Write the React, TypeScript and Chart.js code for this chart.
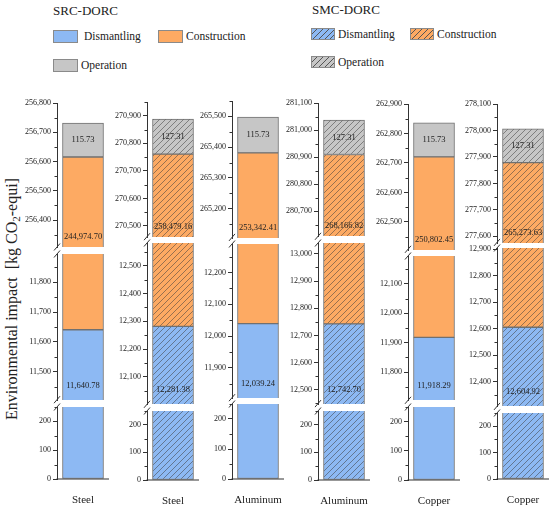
import React, { useRef, useEffect } from "react";
import { Chart, registerables } from "chart.js";

Chart.register(...registerables);

const FONT = "'Liberation Serif', 'Times New Roman', serif";

// chart data
const categories = ["Steel", "Steel", "Aluminum", "Aluminum", "Copper", "Copper"];
const seriesNames = ["Dismantling", "Construction", "Operation"];
const dismantling = [11640.78, 12281.38, 12039.24, 12742.7, 11918.29, 12604.92];
const construction = [244974.7, 258479.16, 253342.41, 268166.82, 250802.45, 265273.63];
const operation = [115.73, 127.31, 115.73, 127.31, 115.73, 127.31];
const hatched = [false, true, false, true, false, true];

// axis ranges of the broken axis (top / middle / bottom piece of each column)
const topMin = [256308, 270460, 265105, 280608, 262405, 277575];
const topMax = [256800, 270950, 265550, 281100, 262900, 278100];
const midMin = [11405, 12002, 11805, 12448, 11705, 12307];
const midMax = [11895, 12582, 12290, 13040, 12195, 12905];
const botMin = [0, 0, 0, 0, 0, 0];
const botMax = [250, 250, 250, 250, 250, 250];
const majorStep = 100;
const minorStep = 50;

const colors = ["#8DB9F3", "#FDAA63", "#C6C6C6"];

// layout (pixels)
const AXIS_X = [57, 146.7, 232.3, 317.7, 407.7, 496.7];
const SEG_Y = [
  [102.7, 247, 254, 400, 407.3],
  [102, 237, 243.3, 404, 410.7],
  [100.7, 237.7, 244.3, 398, 404.3],
  [102.7, 236, 242.7, 403.3, 410.7],
  [103.5, 249, 255.7, 400, 406.7],
  [104, 242.7, 248.3, 406.7, 413.3],
];
const AXIS_BOTTOM = 479.3;
const Y_W = 48;
const AREA_W = 52;
const RIGHT_PAD = 12;
const BAR_W = 41;
const PAD = 12;
const X_H = 30;

const fmt2 = (v: number) =>
  v.toLocaleString("en-US", { minimumFractionDigits: 2, maximumFractionDigits: 2 });

function hatch(color: string) {
  const s = 6;
  const c = document.createElement("canvas");
  c.width = s;
  c.height = s;
  const g = c.getContext("2d")!;
  g.fillStyle = color;
  g.fillRect(0, 0, s, s);
  g.strokeStyle = "rgba(60,60,60,0.75)";
  g.lineWidth = 0.7;
  g.beginPath();
  g.moveTo(0, s);
  g.lineTo(s, 0);
  g.moveTo(-1, 1);
  g.lineTo(1, -1);
  g.moveTo(s - 1, s + 1);
  g.lineTo(s + 1, s - 1);
  g.stroke();
  return g.createPattern(c, "repeat");
}

function segGeom(col: number, seg: number) {
  const y = SEG_Y[col];
  if (seg === 0) return { top: y[0], bottom: y[1], min: topMin[col], max: topMax[col], gap: 0 };
  if (seg === 1) return { top: y[2], bottom: y[3], min: midMin[col], max: midMax[col], gap: y[2] - y[1] };
  return { top: y[4], bottom: AXIS_BOTTOM, min: botMin[col], max: botMax[col], gap: y[4] - y[3] };
}

const Segment: React.FC<{ col: number; seg: number }> = ({ col, seg }) => {
  const chartRef = useRef<HTMLCanvasElement | null>(null);
  const g = segGeom(col, seg);
  const isBottom = seg === 2;
  const width = Y_W + AREA_W + RIGHT_PAD;
  const height = Math.round(g.bottom - g.top) + PAD + (isBottom ? X_H : PAD);

  useEffect(() => {
    if (!chartRef.current) return;
    const ctx = chartRef.current.getContext("2d");
    if (!ctx) return;
    const d = dismantling[col];
    const c = construction[col];
    const o = operation[col];
    const starts = [0, d, d + c];
    const ends = [d, d + c, d + c + o];

    const extras = {
      id: "extras",
      afterDatasetsDraw(chart: any) {
        const cx = chart.ctx;
        const area = chart.chartArea;
        const ys = chart.scales.y;
        const xm = chart.scales.x.getPixelForValue(0);
        cx.save();
        cx.fillStyle = "#222";
        cx.font = `8.5px ${FONT}`;
        cx.textAlign = "center";
        cx.textBaseline = "middle";
        if (seg === 1) cx.fillText(fmt2(d), xm, area.bottom - 14);
        if (seg === 0) {
          cx.fillText(fmt2(c), xm, area.bottom - 10);
          cx.fillText(fmt2(o), xm, ys.getPixelForValue(d + c + o / 2));
        }
        if (isBottom) {
          cx.font = `11px ${FONT}`;
          cx.fillText(categories[col], xm, area.bottom + 21);
        }
        cx.restore();
      },
      afterDraw(chart: any) {
        const cx = chart.ctx;
        const area = chart.chartArea;
        const ys = chart.scales.y;
        const ax = area.left;
        cx.save();
        cx.strokeStyle = "#333";
        cx.lineWidth = 1;
        cx.beginPath();
        // minor ticks
        for (let v = Math.ceil(ys.min / minorStep) * minorStep; v <= ys.max; v += minorStep) {
          if (v % majorStep === 0) continue;
          const py = Math.round(ys.getPixelForValue(v)) + 0.5;
          cx.moveTo(ax - 2.5, py);
          cx.lineTo(ax, py);
        }
        // axis break marks
        if (seg > 0) {
          for (const yy of [area.top - g.gap, area.top]) {
            cx.moveTo(ax - 3, yy + 3.5);
            cx.lineTo(ax + 3, yy - 3.5);
          }
        }
        cx.stroke();
        if (isBottom) {
          cx.lineWidth = 1.2;
          cx.beginPath();
          cx.moveTo(ax - 0.5, area.bottom);
          cx.lineTo(area.right, area.bottom);
          cx.stroke();
        }
        cx.restore();
      },
    };

    const chart = new Chart(ctx, {
      type: "bar",
      data: {
        labels: [categories[col]],
        datasets: seriesNames.map((name, k) => ({
          label: name,
          data: [[starts[k], ends[k]]],
          backgroundColor: hatched[col] ? hatch(colors[k]) : colors[k],
          borderColor: "#707070",
          borderWidth: 1,
          borderSkipped: false,
          barThickness: BAR_W,
          grouped: false,
          clip: 0,
        })) as any,
      },
      options: {
        responsive: false,
        animation: false,
        events: [],
        layout: { padding: { top: PAD, bottom: isBottom ? X_H : PAD, left: 0, right: RIGHT_PAD } },
        plugins: { legend: { display: false }, tooltip: { enabled: false } },
        scales: {
          x: {
            type: "category",
            display: false,
            offset: true,
          },
          y: {
            type: "linear",
            min: g.min,
            max: g.max,
            grid: { drawOnChartArea: false, tickLength: 4, color: "#333", tickColor: "#333" },
            border: { display: true, color: "#333", width: 1 },
            ticks: {
              autoSkip: false,
              padding: 2,
              color: "#222",
              font: { family: FONT, size: 8 },
              callback: (v: any) => Number(v).toLocaleString("en-US"),
            },
            afterBuildTicks: (s: any) => {
              const t = [];
              for (let v = Math.ceil(s.min / majorStep) * majorStep; v <= s.max; v += majorStep) t.push({ value: v });
              s.ticks = t;
            },
            afterFit: (s: any) => {
              s.width = Y_W;
            },
          },
        },
      } as any,
      plugins: [extras],
    });
    return () => chart.destroy();
  }, [col, seg]);

  return (
    <canvas
      ref={chartRef}
      width={width}
      height={height}
      style={{ position: "absolute", left: AXIS_X[col] - Y_W, top: g.top - PAD, width, height }}
    />
  );
};

const Swatch: React.FC<{ x: number; y: number; w: number; h: number; color: string; hatch?: boolean }> = ({
  x, y, w, h, color, hatch: h2,
}) => (
  <div
    style={{
      position: "absolute",
      left: x,
      top: y,
      width: w,
      height: h,
      boxSizing: "border-box",
      border: "1px solid #8a8a8a",
      background: h2
        ? `repeating-linear-gradient(135deg, ${color} 0px, ${color} 3.3px, #555 3.3px, #555 4.1px)`
        : color,
    }}
  />
);

const Label: React.FC<{ x: number; y: number; size: number; children: React.ReactNode }> = ({ x, y, size, children }) => (
  <div
    style={{
      position: "absolute",
      left: x,
      top: y - size * 0.6,
      fontSize: size,
      lineHeight: `${size * 1.2}px`,
      color: "#222",
      whiteSpace: "nowrap",
    }}
  >
    {children}
  </div>
);

export default function App() {
  return (
    <div
      style={{
        position: "absolute",
        left: 0,
        top: 0,
        width: 550,
        height: 510,
        background: "#fff",
        fontFamily: FONT,
        overflow: "hidden",
      }}
    >
      <Label x={53} y={11} size={13}>SRC-DORC</Label>
      <Swatch x={53} y={30} w={25} h={13} color={colors[0]} />
      <Label x={84} y={36.5} size={11.5}>{seriesNames[0]}</Label>
      <Swatch x={158} y={30} w={25} h={13} color={colors[1]} />
      <Label x={186} y={36.5} size={11.5}>{seriesNames[1]}</Label>
      <Swatch x={53} y={59} w={25} h={13} color={colors[2]} />
      <Label x={81} y={65.5} size={11.5}>{seriesNames[2]}</Label>

      <Label x={312} y={10} size={13}>SMC-DORC</Label>
      <Swatch x={311} y={28.3} w={24} h={12} color={colors[0]} hatch />
      <Label x={338} y={34.5} size={11.5}>{seriesNames[0]}</Label>
      <Swatch x={410} y={28.3} w={24} h={12} color={colors[1]} hatch />
      <Label x={437} y={34.5} size={11.5}>{seriesNames[1]}</Label>
      <Swatch x={311} y={56} w={24} h={12} color={colors[2]} hatch />
      <Label x={338} y={62.5} size={11.5}>{seriesNames[2]}</Label>

      <div
        style={{
          position: "absolute",
          left: 12,
          top: 299,
          transform: "translate(-50%, -50%) rotate(-90deg)",
          fontSize: 16,
          whiteSpace: "nowrap",
          color: "#222",
        }}
      >
        Environmental impact&nbsp; [kg CO<sub style={{ fontSize: 11, verticalAlign: -3 }}>2</sub>-equi]
      </div>

      {categories.map((_, col) =>
        [0, 1, 2].map((seg) => <Segment key={`${col}-${seg}`} col={col} seg={seg} />)
      )}
    </div>
  );
}
